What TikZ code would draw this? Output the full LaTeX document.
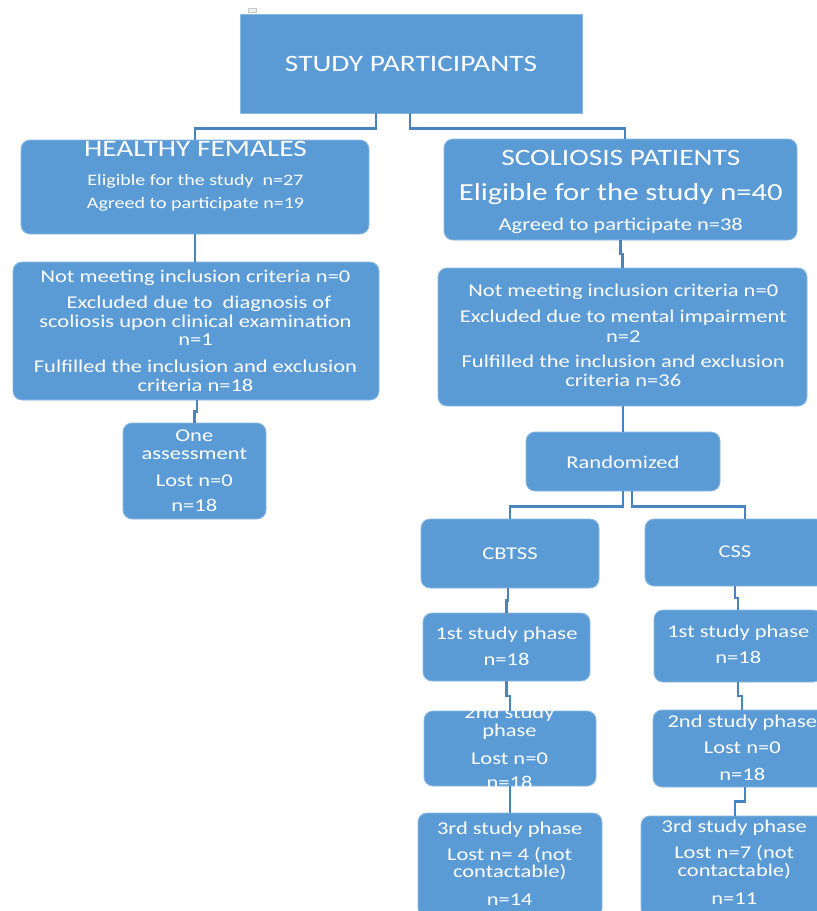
\documentclass[tikz,border=0pt]{standalone}
\usepackage{fontspec}
\setmainfont{Carlito}[FakeStretch=1.25]
\usetikzlibrary{calc}
\definecolor{boxblue}{RGB}{91,155,213}
\definecolor{edgeblue}{RGB}{140,185,225}
\definecolor{linkblue}{RGB}{72,132,192}
\tikzset{
 box/.style={draw=edgeblue, line width=0.8pt, fill=boxblue, rounded corners=9pt, inner sep=0pt},
 sqbox/.style={box, rounded corners=0pt},
 txt/.style={text=white, anchor=base, inner sep=0pt, font=\fontsize{18}{20}\selectfont},
 small/.style={txt, font=\fontsize{16}{18}\selectfont},
 big/.style={txt, font=\fontsize{23.5}{26}\selectfont},
 bigger/.style={txt, font=\fontsize{24.5}{27}\selectfont},
 link/.style={draw=linkblue, line width=2.3pt},
 jog/.style={to path={|- ($(\tikztostart)!0.5!(\tikztotarget)$) -| (\tikztotarget)}},
}
\newcommand\tl[5]{\node[#4] (#1) at (#2,#3) {#5};}
\begin{document}
\begin{tikzpicture}[x=1pt,y=-1pt]
\useasboundingbox (0,0) rectangle (817,911);
\clip (0,0) rectangle (817,911);
\fill[white] (0,0) rectangle (817,911);
\node[draw=gray!45, fill=gray!12, line width=0.4pt, minimum width=8pt, minimum height=4pt, inner sep=0pt] (mark) at (251.8,10.3) {};
% boxes
\node[sqbox, minimum width=342pt, minimum height=99pt] (top) at (411,63.5) {};
\node[box, minimum width=348pt, minimum height=94pt] (hf) at (195,187) {};
\node[box, minimum width=366pt, minimum height=138pt] (hfx) at (196,331) {};
\node[box, minimum width=143pt, minimum height=96pt] (one) at (194.5,471) {};
\node[box, minimum width=353pt, minimum height=101pt] (sp) at (620.5,189.5) {};
\node[box, minimum width=369pt, minimum height=138pt] (spx) at (622.5,337) {};
\node[box, minimum width=194pt, minimum height=59pt] (rand) at (623,461.5) {};
\node[box, minimum width=178pt, minimum height=69pt] (cb) at (510,553.5) {};
\node[box, minimum width=180pt, minimum height=67pt] (cs) at (735,552.5) {};
\node[box, minimum width=167pt, minimum height=68pt] (cb1) at (506.5,647) {};
\node[box, minimum width=168pt, minimum height=72pt] (cs1) at (738,646) {};
\node[box, minimum width=172pt, minimum height=75pt] (cb2) at (510,748.5) {};
\node[box, minimum width=178pt, minimum height=77pt] (cs2) at (742,748.5) {};
\node[box, minimum width=184pt, minimum height=104pt] (cb3) at (510,865) {};
\node[box, minimum width=186pt, minimum height=102pt] (cs3) at (734,867) {};
% texts
\tl{tTop}{411}{71}{big}{STUDY PARTICIPANTS}
\tl{tHFa}{195.5}{156.7}{big}{HEALTHY FEMALES}
\tl{tHFb}{195.5}{185.7}{small}{Eligible for the study~ n=27}
\tl{tHFc}{195.5}{208.3}{small}{Agreed to participate n=19}
\tl{tHXa}{195.5}{282.7}{txt}{Not meeting inclusion criteria n=0}
\tl{tHXb}{199}{308.3}{txt}{Excluded due to~ diagnosis of}
\tl{tHXc}{195.5}{327.3}{txt}{scoliosis upon clinical examination}
\tl{tHXd}{195.5}{345}{txt}{n=1}
\tl{tHXe}{195.5}{372.3}{txt}{Fulfilled the inclusion and exclusion}
\tl{tHXf}{195.5}{391}{txt}{criteria n=18}
\tl{tOa}{194.3}{441}{txt}{One}
\tl{tOb}{194.3}{459}{txt}{assessment}
\tl{tOc}{194.3}{486}{txt}{Lost n=0}
\tl{tOd}{194.3}{511.7}{txt}{n=18}
\tl{tSPa}{620.8}{165}{big}{SCOLIOSIS PATIENTS}
\tl{tSPb}{620.8}{200}{bigger}{Eligible for the study n=40}
\tl{tSPc}{620.8}{230}{txt}{Agreed to participate n=38}
\tl{tSXa}{623.3}{296.7}{txt}{Not meeting inclusion criteria n=0}
\tl{tSXb}{623.3}{322.7}{txt}{Excluded due to mental impairment}
\tl{tSXc}{623.3}{342.3}{txt}{n=2}
\tl{tSXd}{623.3}{367.3}{txt}{Fulfilled the inclusion and exclusion}
\tl{tSXe}{623.3}{386.7}{txt}{criteria n=36}
\tl{tR}{623}{468.3}{txt}{Randomized}
\tl{tCB}{510}{559}{txt}{CBTSS}
\tl{tCS}{735}{557.7}{txt}{CSS}
\tl{tCBa}{506.5}{639.3}{txt}{1st study phase}
\tl{tCBb}{506.5}{665}{txt}{n=18}
\tl{tCSa}{738.3}{637.3}{txt}{1st study phase}
\tl{tCSb}{738.3}{663.3}{txt}{n=18}
\tl{tCBc}{509.5}{718.3}{txt}{2nd study}
\tl{tCBd}{509.5}{736.7}{txt}{phase}
\tl{tCBe}{509.5}{764}{txt}{Lost n=0}
\tl{tCBf}{509.5}{788.3}{txt}{n=18}
\tl{tCSc}{742.3}{727.7}{txt}{2nd study phase}
\tl{tCSd}{742.3}{753.3}{txt}{Lost n=0}
\tl{tCSe}{742.3}{780}{txt}{n=18}
\tl{tCBg}{509.7}{834}{txt}{3rd study phase}
\tl{tCBh}{509.7}{860}{txt}{Lost n= 4 (not}
\tl{tCBi}{509.7}{877.7}{txt}{contactable)}
\tl{tCBj}{509.7}{905}{txt}{n=14}
\tl{tCSf}{734.3}{832.7}{txt}{3rd study phase}
\tl{tCSg}{734.3}{858.3}{txt}{Lost n=7 (not}
\tl{tCSh}{734.3}{876.7}{txt}{contactable)}
\tl{tCSi}{734.3}{904}{txt}{n=11}
% connectors
\draw[link] ([xshift=-35pt]top.south) -- ++(0,15) -| (hf.north);
\draw[link] ([xshift=-1pt]top.south) -- ++(0,15) -| ([xshift=4.5pt]sp.north);
\draw[link] (hf.south) -- (hf.south |- hfx.north);
\draw[link] ([xshift=1pt]hfx.south) to[jog] (one.north);
\draw[link] (sp.south) to[jog] (spx.north);
\draw[link] (rand.north |- spx.south) -- (rand.north);
\draw[link] (rand.south) -- ++(0,15) -| (cb.north);
\draw[link] ([xshift=9pt]rand.south) -- ++(0,15) -| ([xshift=10pt]cs.north);
\draw[link] ([xshift=-2pt]cb.south) to[jog] (cb1.north);
\draw[link] (cs.south) to[jog] (cs1.north);
\draw[link] (cb1.south) to[jog] (cb2.north);
\draw[link] (cs1.south) to[jog] (cs2.north);
\draw[link] (cb2.south) -- (cb2.south |- cb3.north);
\draw[link] ([xshift=3pt]cs2.south) to[jog] ([xshift=1pt]cs3.north);
\end{tikzpicture}
\end{document}
